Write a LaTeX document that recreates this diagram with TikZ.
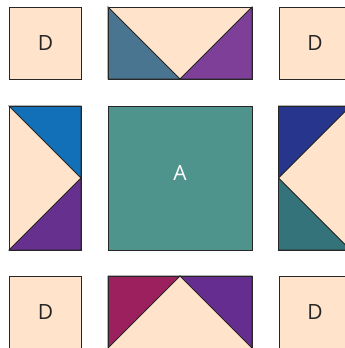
\documentclass[tikz,border=0pt]{standalone}
\usepackage{fontspec}
\setmainfont{Open Sans}
\definecolor{peach}{HTML}{FFE3CA}
\definecolor{tl}{HTML}{4A7590}
\definecolor{tr}{HTML}{7E3F98}
\definecolor{lu}{HTML}{1270B8}
\definecolor{ll}{HTML}{66308F}
\definecolor{ru}{HTML}{27368C}
\definecolor{rl}{HTML}{35737A}
\definecolor{bl}{HTML}{9C1F5E}
\definecolor{br}{HTML}{662D91}
\definecolor{ctr}{HTML}{4E938C}
\begin{document}
\begin{tikzpicture}[x=1pt,y=-1pt,
  piece/.style={draw=black!85,line width=0.9pt,line join=miter},
  lbl/.style={font=\fontsize{21}{25}\selectfont,text=black!85}]
\useasboundingbox (0,0) rectangle (345,348);
\clip (0,0) rectangle (345,348);
% D squares
\node[piece,fill=peach,minimum size=72pt,inner sep=0pt,anchor=north west,lbl] (d1) at (9,7) {D};
\node[piece,fill=peach,minimum size=72pt,inner sep=0pt,anchor=north west,lbl] (d2) at (278.5,7) {D};
\node[piece,fill=peach,minimum size=72pt,inner sep=0pt,anchor=north west,lbl] (d3) at (9,276) {D};
\node[piece,fill=peach,minimum size=72pt,inner sep=0pt,anchor=north west,lbl] (d4) at (278.5,276) {D};
% center
\node[piece,fill=ctr,minimum size=144pt,inner sep=0pt,anchor=north west] (a) at (108,106) {};
\node[lbl,text=white] (al) at (180,173) {A};
% top goose
\fill[peach] (108,7) rectangle (252,79);
\draw[piece,fill=tl] (108,7) -- (180,79) -- (108,79) -- cycle;
\draw[piece,fill=tr] (252,7) -- (180,79) -- (252,79) -- cycle;
\draw[piece] (108,7) rectangle (252,79);
% left goose
\fill[peach] (9,106) rectangle (81,250);
\draw[piece,fill=lu] (9,106) -- (81,106) -- (81,178) -- cycle;
\draw[piece,fill=ll] (9,250) -- (81,250) -- (81,178) -- cycle;
\draw[piece] (9,106) rectangle (81,250);
% right goose
\fill[peach] (278.5,106) rectangle (350.5,250);
\draw[piece,fill=ru] (278.5,106) -- (350.5,106) -- (278.5,178) -- cycle;
\draw[piece,fill=rl] (278.5,250) -- (350.5,250) -- (278.5,178) -- cycle;
\draw[piece] (278.5,106) rectangle (350.5,250);
% bottom goose
\fill[peach] (108,276) rectangle (252,348);
\draw[piece,fill=bl] (108,276) -- (180,276) -- (108,348) -- cycle;
\draw[piece,fill=br] (252,276) -- (180,276) -- (252,348) -- cycle;
\draw[piece] (108,276) rectangle (252,348);
\end{tikzpicture}
\end{document}
